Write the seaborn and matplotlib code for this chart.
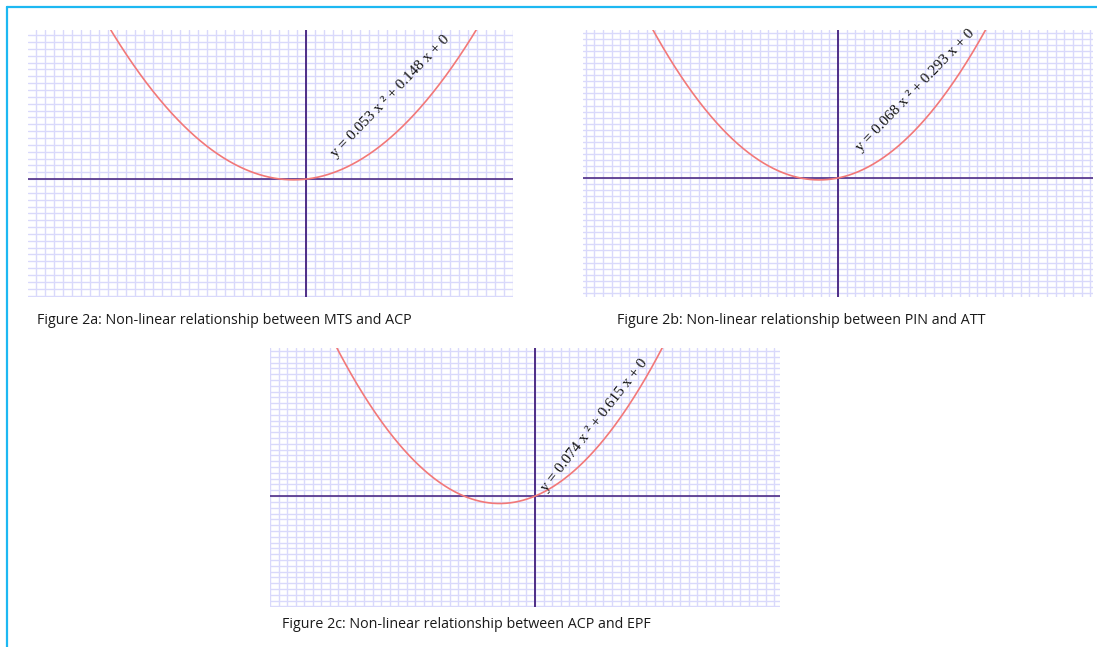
import numpy as np
import pandas as pd
import matplotlib
matplotlib.use('Agg')
import matplotlib.pyplot as plt
import seaborn as sns
from matplotlib.ticker import MultipleLocator
from matplotlib.lines import Line2D

# ── data: fitted quadratic coefficients for each panel ─────────
panels = ['2a', '2b', '2c']
coef_a = [0.053, 0.068, 0.074]   # x^2 term
coef_b = [0.148, 0.293, 0.615]   # x term
coef_c = [0, 0, 0]               # constant
captions = [
    'Figure 2a: Non-linear relationship between MTS and ACP',
    'Figure 2b: Non-linear relationship between PIN and ATT',
    'Figure 2c: Non-linear relationship between ACP and EPF',
]
xlims = [(-30.9, 23.0), (-29.3, 29.3), (-31.0, 28.65)]
ylims = [(-17.2, 21.75), (-19.7, 24.5), (-19.1, 25.5)]

# layout in pixels (left, top, right, bottom)
W, H = 1097, 647
boxes = [(28, 30, 513, 297), (583, 30, 1093, 297), (270, 348, 780, 607)]
label_pos = [(9.4, 12.1, 46), (8.85, 14.5, 46), (7.0, 12.2, 52)]
cap_pos = [(37, 321), (617, 321), (282, 625)]

GRID = '#d9d9fb'
AXIS = '#4e2d86'
CURVE = '#f27878'

sns.set_style('white')
fig = plt.figure(figsize=(W / 100, H / 100), dpi=100)

for i in range(3):
    l, t, r, b = boxes[i]
    ax = fig.add_axes([l / W, 1 - b / H, (r - l) / W, (b - t) / H])
    x0, x1 = xlims[i]
    xs = np.linspace(x0, x1, 600)
    df = pd.DataFrame({'x': xs, 'y': coef_a[i] * xs ** 2 + coef_b[i] * xs + coef_c[i]})
    ax.xaxis.set_major_locator(MultipleLocator(1))
    ax.yaxis.set_major_locator(MultipleLocator(1))
    ax.grid(True, color=GRID, lw=1.0)
    ax.set_axisbelow(True)
    ax.axhline(0, color=AXIS, lw=1.2)
    ax.axvline(0, color=AXIS, lw=1.4)
    sns.lineplot(data=df, x='x', y='y', color=CURVE, lw=1.2, ax=ax)
    ax.set_xlim(xlims[i])
    ax.set_ylim(ylims[i])
    ax.tick_params(length=0, labelbottom=False, labelleft=False)
    ax.set_xlabel('')
    ax.set_ylabel('')
    for s in ax.spines.values():
        s.set_visible(False)
    lx, ly, rot = label_pos[i]
    eq = f'y = {coef_a[i]:.3f} x \u00b2 + {coef_b[i]:.3f} x + {coef_c[i]}'
    ax.text(lx, ly, eq, rotation=rot, rotation_mode='anchor', ha='center', va='center',
            family='Liberation Serif', fontsize=11, color='#111111')
    cx, cy = cap_pos[i]
    fig.text(cx / W, 1 - cy / H, captions[i], ha='left', va='center',
             family='Open Sans', fontsize=10.3, color='#1a1a1a')

# light blue frame (top and left edges visible)
fig.add_artist(Line2D([6.5 / W, 6.5 / W], [0, 1 - 6.5 / H], color='#1db8f2', lw=1.6))
fig.add_artist(Line2D([6.5 / W, 1], [1 - 6.5 / H, 1 - 6.5 / H], color='#1db8f2', lw=1.6))

fig.savefig('out.png', dpi=100)
